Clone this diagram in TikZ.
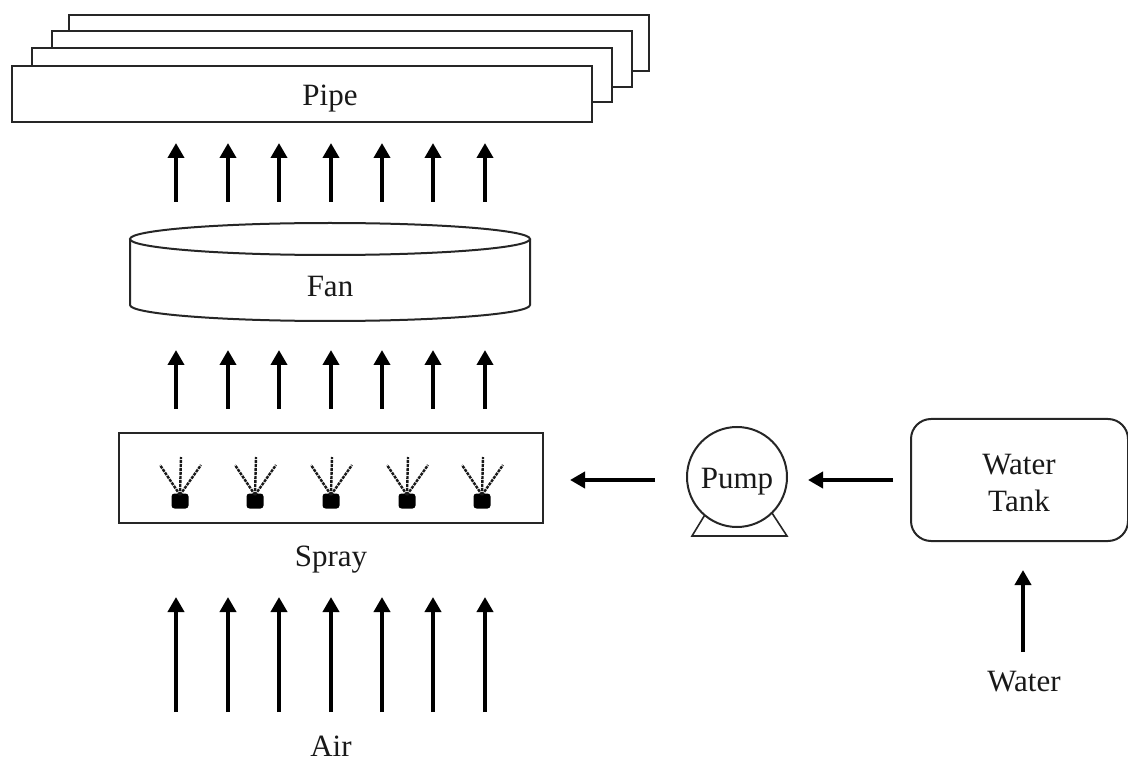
\documentclass[tikz,border=0pt]{standalone}
\usepackage{fontspec}
\setmainfont{Liberation Serif}
\usetikzlibrary{arrows.meta}
\tikzset{
  outline/.style={draw=black!85,line width=2pt},
  pipebox/.style={outline,fill=white},
  flow/.style={draw=black,line width=4.4pt,-{Triangle[length=15pt,width=16pt]},shorten >=0pt},
  lbl/.style={font=\fontsize{31}{37}\selectfont,text=black!90,inner sep=0pt,align=center},
  spraydash/.style={draw=black!90,line width=2.4pt,dash pattern=on 3pt off 1pt},
}
\begin{document}
\begin{tikzpicture}[x=1pt,y=-1pt]
\useasboundingbox (0,0) rectangle (1128,759);
% pipes
\draw[pipebox] (69,15) rectangle (649,71);
\draw[pipebox] (52,31) rectangle (632,87);
\draw[pipebox] (32,48) rectangle (612,102);
\draw[pipebox] (12,66) rectangle (592,122);
\node[lbl,anchor=base] (pipe) at (330,106) {Pipe};
% fan
\draw[outline,fill=white] (130,239) -- (130,305) arc[start angle=180,end angle=0,x radius=200,y radius=16] -- (530,239);
\draw[outline,fill=white] (330,239) ellipse[x radius=200,y radius=16];
\node[lbl,anchor=base] (fan) at (330,297) {Fan};
% spray
\draw[outline] (119,433) rectangle (543,523);
\foreach \n/\x in {1/180,2/255,3/331,4/407,5/482}{
  \node[fill=black,rounded corners=3pt,minimum width=17pt,minimum height=15pt,inner sep=0pt] (noz\n) at (\x,501) {};
  \coordinate (noz\n l) at (\x-20,465);
  \coordinate (noz\n c) at (\x+1,457);
  \coordinate (noz\n r) at (\x+21,465);
  \coordinate (noz\n o) at (\x,495);
  \draw[spraydash] (noz\n o) -- (noz\n l);
  \draw[spraydash] (noz\n o) -- (noz\n c);
  \draw[spraydash] (noz\n o) -- (noz\n r);
}
\node[lbl,anchor=base] (spray) at (331,566) {Spray};
\node[lbl,anchor=base] (air) at (331,756) {Air};
% vertical arrows
\foreach \n/\x in {1/176,2/228,3/279,4/331,5/382,6/433,7/485}{
  \coordinate (a\n) at (\x,712); \coordinate (b\n) at (\x,597);
  \coordinate (c\n) at (\x,409); \coordinate (d\n) at (\x,350);
  \coordinate (e\n) at (\x,202); \coordinate (f\n) at (\x,143);
  \draw[flow] (a\n) -- (b\n);
  \draw[flow] (c\n) -- (d\n);
  \draw[flow] (e\n) -- (f\n);
}
% pump
\coordinate (footl) at (692,536); \coordinate (footr) at (787,536);
\coordinate (legl) at (706,513); \coordinate (legr) at (772,513);
\draw[outline,line width=1.6pt] (legl) -- (footl) -- (footr) -- (legr);
\node[outline,circle,fill=white,minimum size=100pt,inner sep=0pt] (pump) at (737,477) {};
\node[lbl,anchor=base] (pumptext) at (737,488) {Pump};
% tank
\node[outline,rounded corners=20pt,minimum width=217pt,minimum height=122pt,inner sep=0pt] (tank) at (1019.5,480) {};
\node[lbl,anchor=base] (tanktext1) at (1019,474) {Water};
\node[lbl,anchor=base] (tanktext2) at (1019,511) {Tank};
\node[lbl,anchor=base] (water) at (1024,691) {Water};
% connectors
\coordinate (p1) at (655,480); \coordinate (p2) at (570,480);
\coordinate (t1) at (893,480); \coordinate (t2) at (808,480);
\coordinate (w1) at (1023,652); \coordinate (w2) at (1023,570);
\draw[flow] (p1) -- (p2);
\draw[flow] (t1) -- (t2);
\draw[flow] (w1) -- (w2);
\end{tikzpicture}
\end{document}
